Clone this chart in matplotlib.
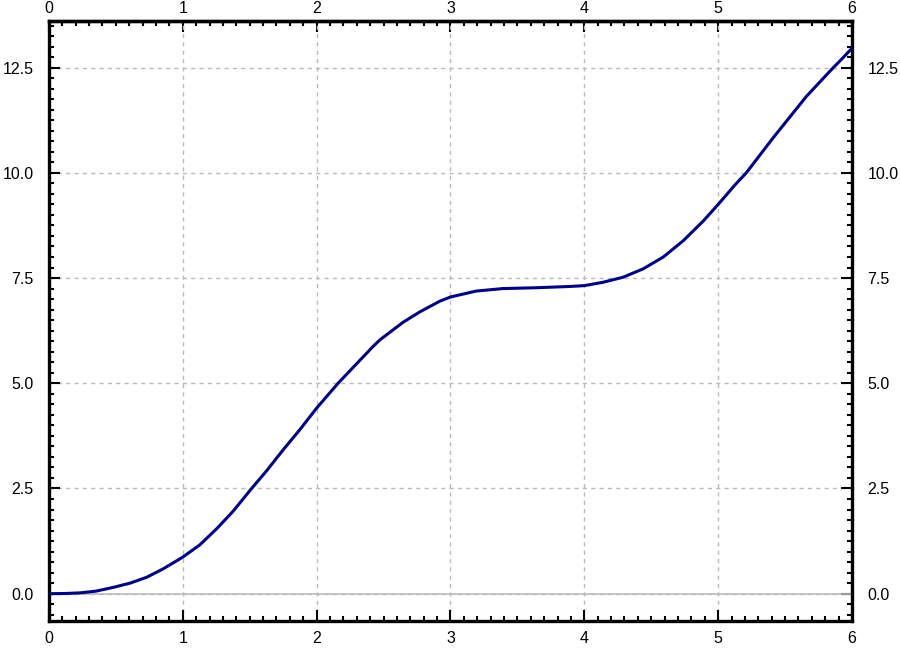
import matplotlib
matplotlib.use("Agg")
import matplotlib.pyplot as plt
from matplotlib import rcParams
from matplotlib.ticker import MultipleLocator, FormatStrFormatter

# 字体设置
rcParams["font.family"] = ["Liberation Sans", "DejaVu Sans"]
rcParams["font.size"] = 11.5

# 数据
x_vals = [0.0, 0.12, 0.232, 0.35, 0.48, 0.605, 0.73, 0.853, 1.0, 1.127,
          1.252, 1.376, 1.514, 1.626, 1.75, 1.875, 2.0, 2.16, 2.42, 2.472,
          2.646, 2.773, 2.92, 3.0, 3.19, 3.39, 3.64, 3.89, 4.0, 4.14,
          4.29, 4.44, 4.59, 4.74, 4.89, 5.0, 5.13, 5.21, 5.41, 5.66,
          5.86, 5.91, 6.0]
y_vals = [0.0, 0.005, 0.02, 0.06, 0.15, 0.25, 0.39, 0.59, 0.87, 1.16,
          1.54, 1.96, 2.50, 2.92, 3.42, 3.90, 4.41, 5.00, 5.87, 6.03,
          6.45, 6.70, 6.95, 7.05, 7.19, 7.25, 7.27, 7.30, 7.32, 7.40,
          7.52, 7.72, 8.00, 8.39, 8.86, 9.25, 9.73, 10.00, 10.83, 11.82,
          12.50, 12.66, 12.96]
x_ticks = [0, 1, 2, 3, 4, 5, 6]

fig = plt.figure(figsize=(9, 6.48), dpi=100)
ax = fig.add_axes([0.0544, 0.0417, 0.8923, 0.9259])

ax.axhline(0, color="#bbbbbb", lw=1.2, zorder=1)
ax.plot(x_vals, y_vals, color="#00008b", lw=2.2, zorder=3,
        solid_joinstyle="round", solid_capstyle="round")

ax.set_xlim(x_ticks[0], x_ticks[-1])
ax.margins(y=0.05)

# 刻度设置
ax.set_xticks(x_ticks)
ax.xaxis.set_minor_locator(MultipleLocator(0.1))
ax.yaxis.set_major_locator(MultipleLocator(2.5))
ax.yaxis.set_minor_locator(MultipleLocator(0.25))
ax.yaxis.set_major_formatter(FormatStrFormatter("%.1f"))

ax.tick_params(axis="both", which="both", direction="in",
               top=False, right=True, labelright=True,
               width=1.5, color="black")
ax.tick_params(axis="both", which="major", length=8)
ax.tick_params(axis="both", which="minor", length=3.5)
ax.tick_params(axis="x", which="major", pad=7)
ax.tick_params(axis="y", which="major", pad=11)

# 上轴刻度(单独的pad)
top = ax.secondary_xaxis("top")
top.set_xticks(x_ticks)
top.xaxis.set_minor_locator(MultipleLocator(0.1))
top.tick_params(axis="x", which="both", direction="in", width=1.5)
top.tick_params(axis="x", which="major", length=8, pad=3.5)
top.tick_params(axis="x", which="minor", length=3.5)
top.spines["top"].set_linewidth(2.4)

for sp in ax.spines.values():
    sp.set_linewidth(2.4)

ax.grid(True, which="major", linestyle=(0, (3, 3)), color="#bbbbbb", lw=1)
ax.set_axisbelow(True)

fig.savefig("out.png", dpi=100)
